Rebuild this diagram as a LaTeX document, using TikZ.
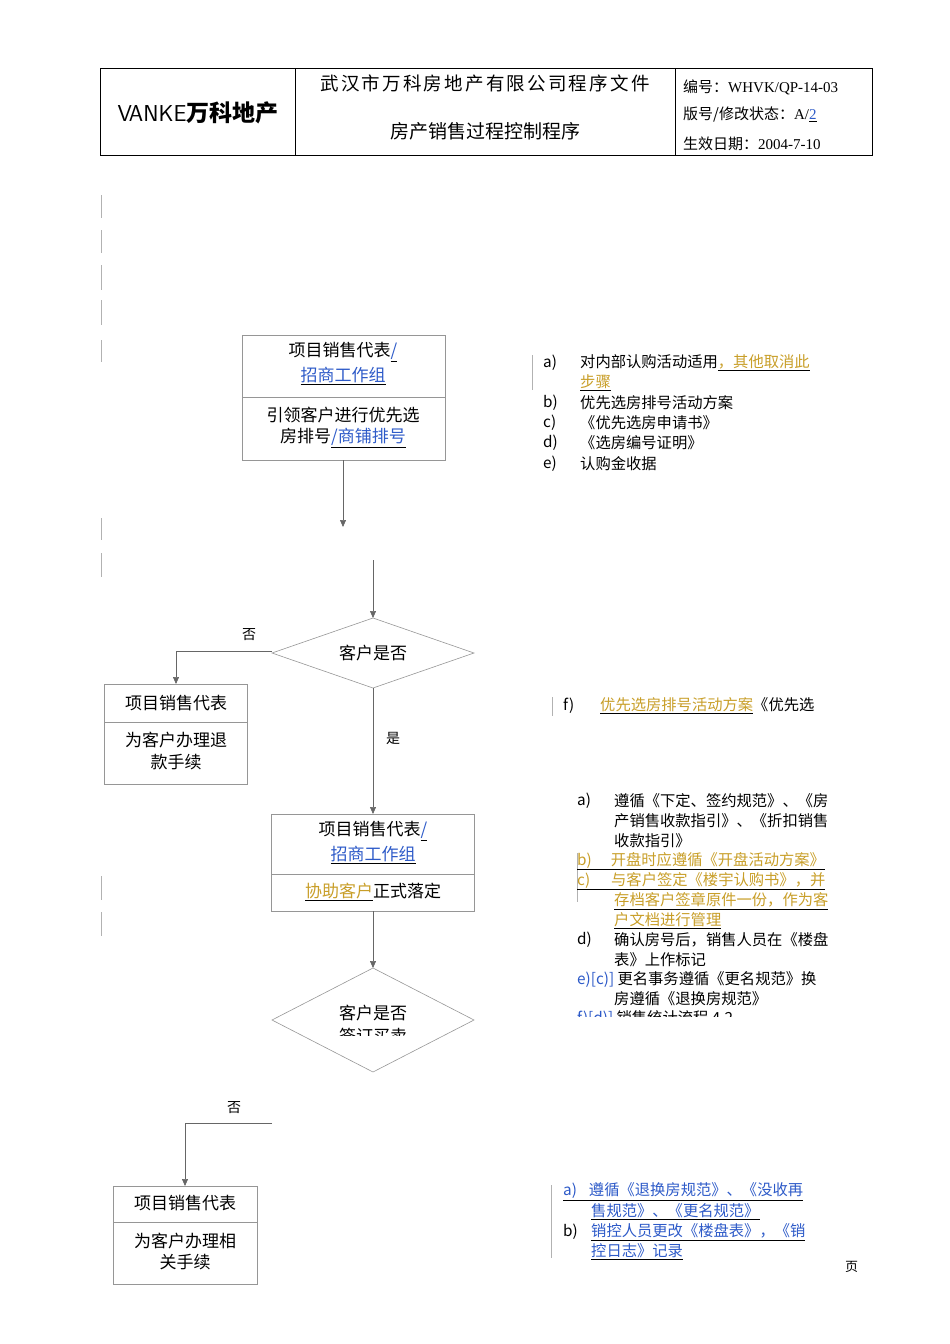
\documentclass[tikz,border=0pt]{standalone}
\usepackage{fontspec}
\setmainfont{Liberation Serif}
\newfontfamily\cjk{Noto Sans CJK SC}
\newfontfamily\cjkw[LetterSpace=12]{Noto Sans CJK SC}
\usetikzlibrary{arrows.meta}
\definecolor{lnk}{RGB}{45,90,200}
\definecolor{gld}{RGB}{200,158,40}
\definecolor{bx}{RGB}{150,150,150}
\tikzset{
 bt/.style={font=\cjk\fontsize{17}{20}\selectfont,inner sep=0pt},
 rt/.style={font=\cjk\fontsize{15.3}{17}\selectfont,inner sep=0pt,anchor=west},
 box/.style={draw=bx,line width=0.6pt},
 conn/.style={draw=black!60,line width=0.6pt},
 arr/.style={conn,-{Triangle[length=7pt,width=6pt]}},
 bar/.style={draw=black!30,line width=0.6pt}
}
\newcommand{\ul}[2]{\underline{\textcolor{#1}{#2}}}
\begin{document}
\begin{tikzpicture}[x=1pt,y=-1pt]
\useasboundingbox (0,0) rectangle (950,1344);
% header
\draw[line width=0.8pt] (100,68) rectangle (872,155);
\draw[line width=0.8pt] (295,68)--(295,155) (675,68)--(675,155);
\node[font=\sffamily\fontsize{23}{23}\selectfont,inner sep=0] (logo) at (198,113) {V\kern-3pt ANKE{\cjk\bfseries 万科地产}};
\node[inner sep=0,font=\cjkw\fontsize{18.5}{20}\selectfont] (h1) at (485,83) {武汉市万科房地产有限公司程序文件};
\node[bt,font=\cjk\fontsize{19}{20}\selectfont] (h2) at (485,131) {房产销售过程控制程序};
\node[rt,font=\cjk\fontsize{15}{16}\selectfont] (h3) at (683,87) {编号：\rmfamily WHVK/QP-14-03};
\node[rt,font=\cjk\fontsize{15}{16}\selectfont] (h4) at (683,115) {版号/修改状态：\rmfamily A/\ul{lnk}{2}};
\node[rt,font=\cjk\fontsize{15}{16}\selectfont] (h5) at (683,144) {生效日期：\rmfamily 2004-7-10};
% left bars
\foreach \a/\b in {195/218,230/253,265/290,300/325,340/362,518/540,553/577,876/900,912/936}
  \draw[bar] (101,\a)--(101,\b);
\draw[bar] (532,355)--(532,390) (552,697)--(552,716) (577,853)--(577,902) (551,1185)--(551,1258);
% box1
\draw[box] (242,335) rectangle (445,460); \draw[box] (242,397)--(445,397);
\coordinate (b1) at (343,460);
\node[bt] (t1a) at (343,352) {项目销售代表\ul{lnk}{/}};
\node[bt] (t1b) at (343,376) {\ul{lnk}{招商工作组}};
\node[bt] (t1c) at (343,415) {引领客户进行优先选};
\node[bt] (t1d) at (343,438) {房排号\ul{lnk}{/商铺排号}};
\coordinate (a1) at (343,527);
\draw[arr] (b1)--(a1);
\coordinate (s2) at (373,560);
% diamond1
\coordinate (d1n) at (373,618); \coordinate (d1s) at (373,688);
\coordinate (d1w) at (272,653); \coordinate (d1e) at (474,653);
\draw[box] (d1n)--(d1e)--(d1s)--(d1w)--cycle;
\node[bt] (dt1) at (373,653) {客户是否};
\draw[arr] (s2)--(d1n);
\node[bt,font=\cjk\fontsize{14}{16}\selectfont] (no1) at (249,635) {否};
\coordinate (n1) at (272,651);
% box2
\draw[box] (104,684) rectangle (247,784); \draw[box] (104,722)--(247,722);
\coordinate (b2n) at (176,684);
\draw[arr] (n1)--(176,651)--(b2n);
\node[bt] (t2a) at (176,703) {项目销售代表};
\node[bt] (t2b) at (176,740) {为客户办理退};
\node[bt] (t2c) at (176,762) {款手续};
\node[bt,font=\cjk\fontsize{14}{16}\selectfont] (yes) at (393,738) {是};
% box3
\draw[box] (271,814) rectangle (474,911); \draw[box] (271,874)--(474,874);
\coordinate (b3n) at (373,814); \coordinate (b3s) at (373,911);
\draw[arr] (d1s)--(b3n);
\node[bt] (t3a) at (373,831) {项目销售代表\ul{lnk}{/}};
\node[bt] (t3b) at (373,855) {\ul{lnk}{招商工作组}};
\node[bt] (t3c) at (373,892) {\ul{gld}{协助客户}正式落定};
% diamond2
\coordinate (d2n) at (373,968); \coordinate (d2s) at (373,1072);
\coordinate (d2w) at (272,1020); \coordinate (d2e) at (474,1020);
\draw[box] (d2n)--(d2e)--(d2s)--(d2w)--cycle;
\draw[arr] (b3s)--(d2n);
\node[bt] (dt2a) at (373,1013) {客户是否};
\begin{scope}\clip (300,1024) rectangle (450,1035);
\node[bt] (dt2b) at (373,1036) {签订买卖};
\end{scope}
\node[bt,font=\cjk\fontsize{14}{16}\selectfont] (no2) at (234,1108) {否};
\coordinate (n2) at (272,1123);
% box4
\draw[box] (113,1186) rectangle (257,1284); \draw[box] (113,1222)--(257,1222);
\coordinate (b4n) at (185,1186);
\draw[arr] (n2)--(185,1123)--(b4n);
\node[bt] (t4a) at (185,1203) {项目销售代表};
\node[bt] (t4b) at (185,1241) {为客户办理相};
\node[bt] (t4c) at (185,1262) {关手续};
% right list 1
\node[rt] (r1) at (543,363) {a)}; \node[rt] (r1t) at (580,363) {对内部认购活动适用\ul{gld}{，其他取消此}};
\node[rt] (r1u) at (580,383) {\ul{gld}{步骤}};
\node[rt] (r2) at (543,403) {b)}; \node[rt] (r2t) at (580,403) {优先选房排号活动方案};
\node[rt] (r3) at (543,423) {c)}; \node[rt] (r3t) at (580,423) {《优先选房申请书》};
\node[rt] (r4) at (543,443) {d)}; \node[rt] (r4t) at (580,443) {《选房编号证明》};
\node[rt] (r5) at (543,464) {e)}; \node[rt] (r5t) at (580,464) {认购金收据};
\node[rt] (f1) at (563,706) {f)}; \node[rt] (f1t) at (600,706) {\ul{gld}{优先选房排号活动方案}《优先选};
% list 3
\node[rt] (l1) at (577,801) {a)};
\node[rt] (l1a) at (614,801) {遵循《下定、签约规范》、《房};
\node[rt] (l1b) at (614,821) {产销售收款指引》、《折扣销售};
\node[rt] (l1c) at (614,841) {收款指引》};
\node[rt] (l2) at (577,861) {\ul{gld}{b)\hspace{19pt}开盘时应遵循《开盘活动方案》}};
\node[rt] (l3) at (577,881) {\ul{gld}{c)\hspace{21pt}与客户签定《楼宇认购书》，并}};
\node[rt] (l3b) at (614,901) {\ul{gld}{存档客户签章原件一份，作为客}};
\node[rt] (l3c) at (614,921) {\ul{gld}{户文档进行管理}};
\node[rt] (l4) at (577,940) {d)};
\node[rt] (l4a) at (614,940) {确认房号后，销售人员在《楼盘};
\node[rt] (l4b) at (614,960) {表》上作标记};
\node[rt] (l5) at (577,980) {\textcolor{lnk}{e)[c)]} 更名事务遵循《更名规范》换};
\node[rt] (l5b) at (614,999) {房遵循《退换房规范》};
\begin{scope}\clip (570,1010) rectangle (860,1016);
\node[rt] (l6) at (577,1019) {\textcolor{lnk}{f)[d)]} 销售统计流程 4.2};
\end{scope}
% list 4
\node[rt] (m1) at (563,1192) {\ul{lnk}{a)\hspace{12pt}遵循《退换房规范》、《没收再}};
\node[rt] (m1b) at (591,1212) {\ul{lnk}{售规范》、《更名规范》}};
\node[rt] (m2) at (563,1232) {b)};
\node[rt] (m2a) at (591,1232) {\ul{lnk}{销控人员更改《楼盘表》，《销}};
\node[rt] (m2b) at (591,1252) {\ul{lnk}{控日志》记录}};
\node[rt,font=\cjk\fontsize{13}{15}\selectfont] (pg) at (845,1267) {页};
\end{tikzpicture}
\end{document}
